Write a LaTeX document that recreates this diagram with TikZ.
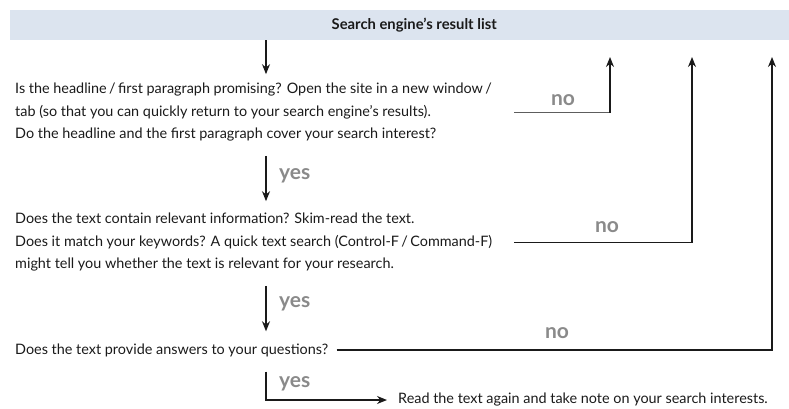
\documentclass[tikz,border=0pt]{standalone}
\usepackage{fontspec}
\setmainfont{Lato}
\usepackage{xcolor}
\usetikzlibrary{arrows.meta,positioning}

\definecolor{bandblue}{HTML}{DCE4EF}
\definecolor{answergray}{HTML}{8A8A8A}
\definecolor{inkgray}{HTML}{1A1A1A}

\begin{document}
\begin{tikzpicture}[
   x=1pt, y=-1pt,
   every node/.style={inner sep=0pt, text=inkgray},
   question/.style={anchor=west, align=left, font=\fontsize{14.4}{22.5}\selectfont},
   answer/.style={font=\fontsize{21}{21}\selectfont\bfseries, text=answergray},
   link/.style={line width=1.4pt, draw=inkgray},
   flow/.style={link, -{Stealth[length=10pt,width=8pt]}},
   ]
   \useasboundingbox (0,0) rectangle (789,408);

   % band on top, wider than the page (cut on the right)
   \node[fill=bandblue, minimum width=808pt, minimum height=30pt, anchor=north west,
   font=\fontsize{14.8}{15}\selectfont\bfseries] (list) at (10,10) {Search engine’s result list};

   % main column and the three returns
   \coordinate (spine) at (266,0);
   \coordinate (back1) at (610,57);
   \coordinate (back2) at (692,57);
   \coordinate (back3) at (772,57);

   % questions
   \node[question] (q1) at (15,112.5) {Is the headline\,/\,first paragraph promising? Open the site in a new window\,/\\
      tab (so that you can quickly return to your search engine’s results).\\
      Do the headline and the first paragraph cover your search interest?};
   \node[question] (q2) at (15,242.5) {Does the text contain relevant information? Skim-read the text.\\
      Does it match your keywords? A quick text search (Control-F\,/\,Command-F)\\
      might tell you whether the text is relevant for your research.};
   \node[question] (q3) at (15,350) {Does the text provide answers to your questions?};
   \node[question] (read) at (398,400) {Read the text again and take note on your search interests.};

   % down the column
   \draw[flow, shorten >=9pt] (list.south -| spine) -- (q1.north -| spine);
   \draw[flow, shorten <=14pt, shorten >=12pt] (q1.south -| spine) -- (q2.north -| spine);
   \draw[flow, shorten <=14pt, shorten >=12pt] (q2.south -| spine) -- (q3.north -| spine);
   \draw[flow, shorten <=15pt, shorten >=11pt] (q3.south -| spine) |- (read.west);

   \node[answer, anchor=west] (yes1) at (279,176) {yes};
   \node[answer, anchor=west] (yes2) at (279,304) {yes};
   \node[answer, anchor=west] (yes3) at (279,384) {yes};

   % back to the list
   \coordinate (turn1) at (back1 |- q1.east);
   \draw[link, line width=1.2pt, draw=answergray!60!inkgray] ([xshift=22pt]q1.east) -- (turn1);
   \draw[flow, line cap=rect] (turn1) -- (back1);
   \draw[flow] ([xshift=22pt]q2.east) -| (back2);
   \draw[flow] ([xshift=8pt]q3.east) -| (back3);

   \node[answer] (no1) at (563,100) {no};
   \node[answer] (no2) at (607,227) {no};
   \node[answer] (no3) at (557,333) {no};
\end{tikzpicture}
\end{document}
